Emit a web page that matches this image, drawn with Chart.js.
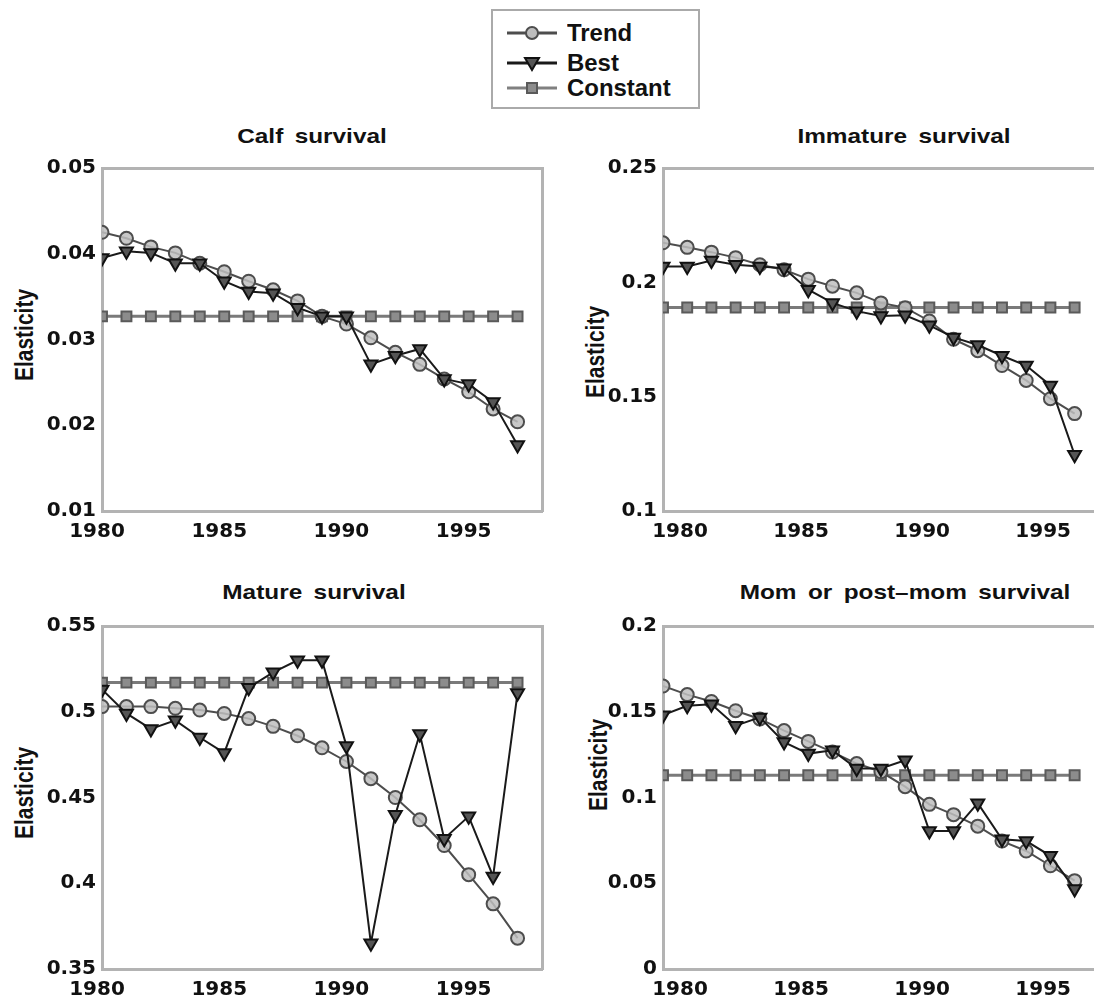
<!DOCTYPE html>
<html>
<head>
<meta charset="utf-8">
<script src="https://cdn.jsdelivr.net/npm/chart.js@4.4.0/dist/chart.umd.min.js"></script>
<style>
  body { margin: 0; background: #fff; overflow: hidden; font-family: "Liberation Sans", Arial, sans-serif; }
  #page { position: relative; width: 1094px; height: 1005px; overflow: hidden; }
  .box { position: absolute; height: 395px; }
  .ttl { position: absolute; font-weight: bold; font-size: 21px; color: #111; white-space: nowrap; transform: translateX(-50%) scaleX(1.16); word-spacing: 4px; }
  .ylab { position: absolute; font-weight: bold; font-size: 21px; color: #111; white-space: nowrap; transform: translate(-50%, -50%) scaleX(1.2) rotate(-90deg); }
  #legend { position: absolute; left: 491px; top: 9px; width: 205px; height: 96px; border: 2px solid #aaa; background: #fff; }
  .li { position: absolute; left: 14px; height: 24px; display: flex; align-items: center; font-weight: bold; font-size: 23px; color: #111; white-space: nowrap; }
  .li span { display: inline-block; transform: scaleX(1.04); transform-origin: left center; }
  .li svg { margin-right: 10px; }
</style>
</head>
<body>
<div id="page">
  <div id="legend">
    <div class="li" style="top:10px"><svg width="50" height="20"><line x1="0" y1="10" x2="50" y2="10" stroke="#4d4d4d" stroke-width="3"/><circle cx="25" cy="10" r="6" fill="#bdbdbd" stroke="#4d4d4d" stroke-width="2"/></svg><span>Trend</span></div>
    <div class="li" style="top:40px"><svg width="50" height="20"><line x1="0" y1="10" x2="50" y2="10" stroke="#1a1a1a" stroke-width="3"/><polygon points="18,5 32,5 25,17" fill="#555" stroke="#111" stroke-width="2"/></svg><span>Best</span></div>
    <div class="li" style="top:65px"><svg width="50" height="20"><line x1="0" y1="10" x2="50" y2="10" stroke="#808080" stroke-width="3"/><rect x="20" y="5" width="10" height="10" fill="#8c8c8c" stroke="#5a5a5a" stroke-width="2"/></svg><span>Constant</span></div>
  </div>

  <div class="ttl" style="left:312px;top:124px">Calf survival</div>
  <div class="ttl" style="left:904px;top:124px">Immature survival</div>
  <div class="ttl" style="left:314px;top:580px">Mature survival</div>
  <div class="ttl" style="left:905px;top:580px">Mom or post–mom survival</div>

  <div class="ylab" style="left:25px;top:335px">Elasticity</div>
  <div class="ylab" style="left:596px;top:352px">Elasticity</div>
  <div class="ylab" style="left:25px;top:793px">Elasticity</div>
  <div class="ylab" style="left:599px;top:765px">Elasticity</div>

  <div class="box" style="left:0;top:150px;width:560px"><canvas id="c1" width="560" height="395"></canvas></div>
  <div class="box" style="left:560px;top:150px;width:600px"><canvas id="c2" width="600" height="395"></canvas></div>
  <div class="box" style="left:0;top:608px;width:560px"><canvas id="c3" width="560" height="395"></canvas></div>
  <div class="box" style="left:560px;top:608px;width:600px"><canvas id="c4" width="600" height="395"></canvas></div>
</div>

<script>
const years = [1980, 1981, 1982, 1983, 1984, 1985, 1986, 1987, 1988, 1989, 1990, 1991, 1992, 1993, 1994, 1995, 1996, 1997];

// Calf survival
const calfTrend = [0.0425, 0.0418, 0.0408, 0.0401, 0.0389, 0.0379, 0.0368, 0.0358, 0.0345, 0.0327, 0.0318, 0.0302, 0.0285, 0.0271, 0.0254, 0.0239, 0.0219, 0.0204];
const calfBest = [0.0395, 0.0403, 0.0401, 0.0389, 0.0389, 0.0368, 0.0356, 0.0354, 0.0337, 0.0327, 0.0327, 0.0271, 0.0281, 0.0289, 0.0254, 0.0248, 0.0227, 0.0177];
const calfConst = [0.0327, 0.0327, 0.0327, 0.0327, 0.0327, 0.0327, 0.0327, 0.0327, 0.0327, 0.0327, 0.0327, 0.0327, 0.0327, 0.0327, 0.0327, 0.0327, 0.0327, 0.0327];

// Immature survival
const immTrend = [0.2173, 0.2153, 0.2132, 0.2108, 0.2077, 0.2055, 0.2014, 0.1983, 0.1954, 0.1910, 0.1889, 0.1831, 0.1751, 0.1701, 0.1636, 0.1571, 0.1491, 0.1426];
const immBest = [0.2069, 0.2069, 0.2095, 0.2077, 0.2069, 0.2062, 0.1968, 0.1910, 0.1874, 0.1853, 0.1856, 0.1812, 0.1759, 0.1726, 0.1679, 0.1636, 0.1549, 0.1246];
const immConst = [0.189, 0.189, 0.189, 0.189, 0.189, 0.189, 0.189, 0.189, 0.189, 0.189, 0.189, 0.189, 0.189, 0.189, 0.189, 0.189, 0.189, 0.189];

// Mature survival
const matTrend = [0.503, 0.503, 0.503, 0.502, 0.501, 0.499, 0.496, 0.4915, 0.486, 0.479, 0.471, 0.461, 0.450, 0.437, 0.422, 0.405, 0.388, 0.368];
const matBest = [0.513, 0.499, 0.490, 0.495, 0.485, 0.476, 0.514, 0.523, 0.530, 0.530, 0.480, 0.365, 0.440, 0.487, 0.426, 0.439, 0.404, 0.511];
const matConst = [0.517, 0.517, 0.517, 0.517, 0.517, 0.517, 0.517, 0.517, 0.517, 0.517, 0.517, 0.517, 0.517, 0.517, 0.517, 0.517, 0.517, 0.517];

// Mom or post-mom survival
const momTrend = [0.165, 0.160, 0.156, 0.1506, 0.1458, 0.139, 0.1327, 0.1265, 0.1198, 0.115, 0.1063, 0.096, 0.090, 0.0833, 0.0746, 0.0688, 0.0602, 0.0515];
const momBest = [0.148, 0.1535, 0.1544, 0.1419, 0.1467, 0.1323, 0.1256, 0.1275, 0.1169, 0.1169, 0.1217, 0.0804, 0.0804, 0.0967, 0.0756, 0.0746, 0.066, 0.0467];
const momConst = [0.113, 0.113, 0.113, 0.113, 0.113, 0.113, 0.113, 0.113, 0.113, 0.113, 0.113, 0.113, 0.113, 0.113, 0.113, 0.113, 0.113, 0.113];

const xTicks = [1980, 1985, 1990, 1995];
const tickFont = { family: "DejaVu Sans", size: 20, weight: "bold" };
const frame = "#b3b3b3";

function pts(vals) {
  return years.map((yr, i) => ({ x: yr, y: vals[i] }));
}

function makeChart(id, trend, best, cons, yMin, yMax, yStep, yAxisW, xMax, padRight, labelOff, rightEdge) {
  const ctx = document.getElementById(id).getContext("2d");
  return new Chart(ctx, {
    type: "line",
    data: {
      datasets: [
        {
          label: "Trend",
          data: pts(trend),
          borderColor: "#4d4d4d",
          borderWidth: 2,
          pointStyle: "circle",
          pointRadius: 6.5,
          pointBorderWidth: 2,
          pointBorderColor: "#4d4d4d",
          pointBackgroundColor: "rgba(190,190,190,0.85)",
          order: 2,
        },
        {
          label: "Best",
          data: pts(best),
          borderColor: "#1a1a1a",
          borderWidth: 2,
          pointStyle: "triangle",
          pointRotation: 180,
          pointRadius: 7.5,
          pointBorderWidth: 2,
          pointBorderColor: "#111",
          pointBackgroundColor: "#555",
          order: 1,
        },
        {
          label: "Constant",
          data: pts(cons),
          borderColor: "#7a7a7a",
          borderWidth: 3,
          pointStyle: "rect",
          pointRadius: 7,
          pointBorderWidth: 2,
          pointBorderColor: "#5a5a5a",
          pointBackgroundColor: "#8c8c8c",
          order: 3,
        },
      ],
    },
    options: {
      responsive: false,
      animation: false,
      devicePixelRatio: 1,
      layout: { padding: { top: 14, right: padRight, left: 0, bottom: 0 } },
      plugins: { legend: { display: false }, tooltip: { enabled: false } },
      scales: {
        x: {
          type: "linear",
          position: "bottom",
          min: 1980,
          max: xMax,
          afterBuildTicks: (s) => { s.ticks = xTicks.map((v) => ({ value: v })); },
          afterFit: (s) => { s.height = 34; },
          ticks: { callback: (v) => String(v), font: tickFont, color: "#111", padding: 9, labelOffset: labelOff, maxRotation: 0, autoSkip: false },
          grid: { display: true, drawOnChartArea: false, drawTicks: false },
          border: { color: frame, width: 3 },
        },
        x2: {
          type: "linear",
          position: "top",
          min: 1980,
          max: xMax,
          afterFit: (s) => { s.height = 0; },
          ticks: { display: false },
          grid: { display: true, drawOnChartArea: false, drawTicks: false },
          border: { color: frame, width: 3 },
        },
        y: {
          min: yMin,
          max: yMax,
          afterFit: (s) => { s.width = yAxisW; },
          ticks: { stepSize: yStep, callback: (v) => String(+v.toFixed(3)), font: tickFont, color: "#111", padding: 6 },
          grid: { display: true, drawOnChartArea: false, drawTicks: false },
          border: { color: frame, width: 3 },
        },
        y2: {
          position: "right",
          display: rightEdge,
          min: yMin,
          max: yMax,
          afterFit: (s) => { s.width = 0; },
          ticks: { display: false },
          grid: { display: true, drawOnChartArea: false, drawTicks: false },
          border: { color: frame, width: 3 },
        },
      },
    },
  });
}

makeChart("c1", calfTrend, calfBest, calfConst, 0.01, 0.05, 0.01, 102, 1998, 18, -5, true);
makeChart("c2", immTrend, immBest, immConst, 0.1, 0.25, 0.05, 103, 1999.7, 20, 17, false);
makeChart("c3", matTrend, matBest, matConst, 0.35, 0.55, 0.05, 102, 1998, 18, -5, true);
makeChart("c4", momTrend, momBest, momConst, 0, 0.2, 0.05, 103, 1999.7, 20, 17, false);
</script>
</body>
</html>
